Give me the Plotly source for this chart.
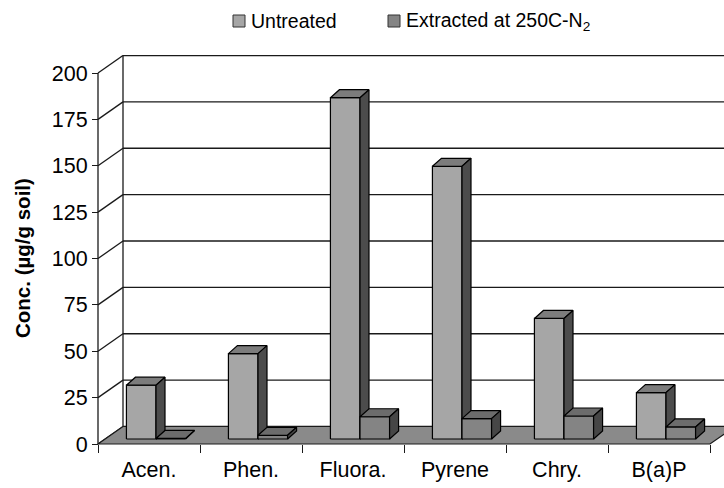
import plotly.graph_objects as go

# ---------------- data ----------------
categories = ["Acen.", "Phen.", "Fluora.", "Pyrene", "Chry.", "B(a)P"]
untreated = [29, 46, 184, 147, 65, 25]
extracted = [0.3, 2, 12, 11, 12.4, 6.5]
y_ticks = [0, 25, 50, 75, 100, 125, 150, 175, 200]
series_names = ["Untreated", "Extracted at 250C-N<sub>2</sub>"]

# ---------------- geometry (pixel based) ----------------
W, H = 724, 488
L, T = 96, 55           # plot area left / top (px)
R, B = 724, 446         # plot area right / bottom (px)
X0PX, Y0PX = 98, 444    # pixel position of data origin
PXX = 102.0             # px per category
PXY = 1.855             # px per unit of concentration

xr = [(L - X0PX) / PXX, (R - X0PX) / PXX]
yr = [(Y0PX - B) / PXY, (Y0PX - T) / PXY]

FDX, FDY = 25 / PXX, 17.5 / PXY     # floor / wall depth
SX, SY = 7 / PXX, 5 / PXY           # bar front set back
BDX, BDY = 9 / PXX, 8 / PXY         # bar depth
GAP = 0.21
BW = 0.29

FONT = "Liberation Sans, Arial, sans-serif"
LINE = "#1a1a1a"

fig = go.Figure()

# floor
n = len(categories)
fig.add_trace(go.Scatter(
    x=[0, n, n + FDX, FDX, 0], y=[0, 0, FDY, FDY, 0],
    mode="lines", fill="toself", fillcolor="#8a8a8a",
    line=dict(color=LINE, width=1.2), hoverinfo="skip", showlegend=False))

face_colors = [
    dict(front="#a6a6a6", top="#7c7c7c", side="#4c4c4c"),
    dict(front="#848484", top="#6c6c6c", side="#464646"),
]

for k, vals in enumerate([untreated, extracted]):
    fx, fy, tx, ty, sxl, syl = [], [], [], [], [], []
    for i, v in enumerate(vals):
        x0 = i + GAP + SX + k * BW
        x1 = x0 + BW
        y0 = SY
        y1 = SY + v
        fx += [x0, x1, x1, x0, x0, None]
        fy += [y0, y0, y1, y1, y0, None]
        tx += [x0, x1, x1 + BDX, x0 + BDX, x0, None]
        ty += [y1, y1, y1 + BDY, y1 + BDY, y1, None]
        sxl += [x1, x1 + BDX, x1 + BDX, x1, x1, None]
        syl += [y0, y0 + BDY, y1 + BDY, y1, y0, None]
    c = face_colors[k]
    for xs, ys, col in [(fx, fy, c["front"]), (tx, ty, c["top"]), (sxl, syl, c["side"])]:
        fig.add_trace(go.Scatter(
            x=xs, y=ys, mode="lines", fill="toself", fillcolor=col,
            line=dict(color="#000000", width=1.2), hoverinfo="skip",
            showlegend=False, name=series_names[k]))

shapes = []
# back-wall gridlines and left-wall diagonals
for v in y_ticks:
    shapes.append(dict(type="line", xref="x", yref="y", layer="below",
                       x0=FDX, y0=v + FDY, x1=xr[1] + 1, y1=v + FDY,
                       line=dict(color=LINE, width=1.3)))
    shapes.append(dict(type="line", xref="x", yref="y", layer="below",
                       x0=0, y0=v, x1=FDX, y1=v + FDY,
                       line=dict(color=LINE, width=1.3)))
# back-left vertical edge
shapes.append(dict(type="line", xref="x", yref="y", layer="below",
                   x0=FDX, y0=FDY, x1=FDX, y1=y_ticks[-1] + FDY,
                   line=dict(color=LINE, width=1.3)))
# front value axis
shapes.append(dict(type="line", xref="x", yref="y", layer="above",
                   x0=0, y0=0, x1=0, y1=y_ticks[-1],
                   line=dict(color=LINE, width=1.3)))

# legend (custom)
PW, PH = R - L, B - T
def px(xp): return (xp - L) / PW
def py(yp): return (B - yp) / PH

legend_items = [(233, series_names[0], face_colors[0]["front"]),
                (388, series_names[1], face_colors[1]["front"])]
annotations = []
for xs, name, col in legend_items:
    shapes.append(dict(type="rect", xref="paper", yref="paper",
                       x0=px(xs), x1=px(xs + 12), y0=py(27), y1=py(15),
                       fillcolor=col, line=dict(color="#333333", width=1)))
    annotations.append(dict(xref="paper", yref="paper", x=px(xs + 16), y=py(21),
                            xanchor="left", yanchor="middle", showarrow=False,
                            text=name, font=dict(family=FONT, size=19.5, color="#000")))

# y title
annotations.append(dict(xref="paper", yref="paper", x=px(22), y=py(258),
                        xanchor="center", yanchor="middle", showarrow=False,
                        textangle=-90, text="<b>Conc. (µg/g soil)</b>",
                        font=dict(family=FONT, size=20.5, color="#000")))

fig.update_layout(
    width=W, height=H,
    margin=dict(l=L, r=W - R, t=T, b=H - B, pad=0),
    paper_bgcolor="white", plot_bgcolor="white",
    showlegend=False,
    shapes=shapes, annotations=annotations,
    xaxis=dict(range=xr, showgrid=False, zeroline=False, showline=False,
               tickmode="array", tickvals=[i + 0.5 for i in range(n)],
               ticktext=categories, ticks="", ticklabelstandoff=10,
               tickfont=dict(family=FONT, size=21.5, color="#000"),
               minor=dict(tickmode="array", tickvals=list(range(n + 1)),
                          ticks="outside", ticklen=8, tickwidth=1.3, tickcolor=LINE),
               anchor="free", position=py(Y0PX), fixedrange=True),
    yaxis=dict(range=yr, showgrid=False, zeroline=False, showline=False,
               tickmode="array", tickvals=y_ticks, ticks="outside",
               ticklen=6, tickwidth=1.3, tickcolor=LINE,
               tickfont=dict(family=FONT, size=21.5, color="#000"),
               anchor="free", position=px(X0PX), fixedrange=True),
)

fig.write_html("out.html")
